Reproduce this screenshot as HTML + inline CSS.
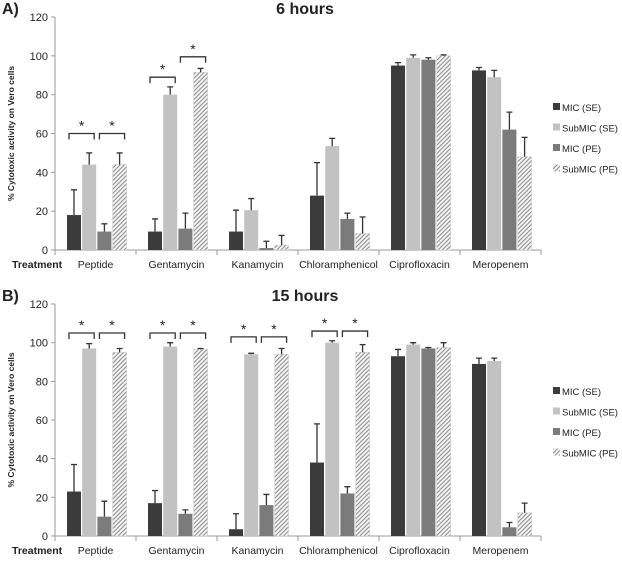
<!DOCTYPE html>
<html><head><meta charset="utf-8"><style>
body{margin:0;background:#fff;font-family:"Liberation Sans",sans-serif;}
svg text{font-family:"Liberation Sans",sans-serif;fill:#222;}
</style></head><body>
<svg id="c" width="622" height="559" viewBox="0 0 622 559">
<defs>
<pattern id="hatch" patternUnits="userSpaceOnUse" width="3" height="3" patternTransform="rotate(45)">
<rect width="3" height="3" fill="#f4f4f4"/><rect width="1" height="3" fill="#8a8a8a"/>
</pattern>
</defs>
</svg>
<script>
const categories=["Peptide","Gentamycin","Kanamycin","Chloramphenicol","Ciprofloxacin","Meropenem"];
const seriesNames=["MIC (SE)","SubMIC (SE)","MIC (PE)","SubMIC (PE)"];
const yTicks=[0,20,40,60,80,100,120];
const a_micSE=[18,9.5,9.5,28,95,92.5];
const a_subSE=[44,80,20.5,53.5,99,89];
const a_micPE=[9.5,11,1,16,98,62];
const a_subPE=[44,91.5,2.5,8.5,100,48];
const a_errMicSE=[13,6.5,11,17,1.5,1.5];
const a_errSubSE=[6,4,6,4,1.5,3.5];
const a_errMicPE=[4,8,3.5,3,1,9];
const a_errSubPE=[6,2,5,8.5,0.5,10];
const b_micSE=[23,17,3.5,38,93,89];
const b_subSE=[97,98,94,100,99,90.5];
const b_micPE=[10,11.5,16,22,97,4.5];
const b_subPE=[95,96.5,94,95,97.5,12];
const b_errMicSE=[14,6.5,8,20,3.5,3];
const b_errSubSE=[2.5,2,0.5,1,1,1.5];
const b_errMicPE=[8,2,5.5,3.5,0.5,2.5];
const b_errSubPE=[2,0.5,3,4,2.5,5];
// significance brackets: [category, firstBar, secondBar, level]
const a_sig=[[0,0,1,60],[0,2,3,60],[1,0,1,89],[1,2,3,99.5]];
const b_sig=[[0,0,1,105],[0,2,3,105],[1,0,1,105],[1,2,3,105],[2,0,1,103],[2,2,3,103],[3,0,1,106],[3,2,3,106]];

const svg=document.getElementById('c');
const NS="http://www.w3.org/2000/svg";
function el(t,at,p){const e=document.createElementNS(NS,t);for(const k in at)e.setAttribute(k,at[k]);(p||svg).appendChild(e);return e;}
const fills=["#3b3b3b","#c2c2c2","#7b7b7b","url(#hatch)"];

function panel(cfg){
  const g=el('g',{});
  
  
  const x0=55,x1=541,y0=cfg.y0,y1=cfg.y1;
  const yS=v=>y0-(v/120)*(y0-y1);
  const cw=(x1-x0)/categories.length;
  const xCat=i=>x0+i*cw;
  const bw=14,gap=1.2,off=12;
  const xBar=(i,s)=>xCat(i)+off+s*(bw+gap);
  const t=el('text',{x:2,y:cfg.y1-3,'font-size':16,'font-weight':'bold'},g);t.textContent=cfg.letter;
  
  const ti=el('text',{x:305,y:cfg.y1-3,'font-size':16,'font-weight':'bold','text-anchor':'middle'},g);ti.textContent=cfg.title;
  
  const yl=el('text',{transform:`translate(14,${(y0+y1)/2}) rotate(-90)`,'font-size':8.5,'font-weight':'bold','text-anchor':'middle'},g);
  yl.textContent="% Cytotoxic activity on Vero cells";
  
  const ax=el('line',{x1:x0,y1:y1,x2:x0,y2:y0,stroke:'#999'},g);
  
  const xa=el('line',{x1:x0,y1:y0,x2:x1,y2:y0,stroke:'#999'},g);
  
  yTicks.forEach(v=>{
    el('line',{x1:x0-4,x2:x0,y1:yS(v),y2:yS(v),stroke:'#999'},g);
    const tt=el('text',{x:x0-7,y:yS(v)+4,'font-size':11,'text-anchor':'end',fill:'#333'},g);tt.textContent=v;
    
  });
  for(let i=0;i<=categories.length;i++) el('line',{x1:xCat(i),x2:xCat(i),y1:y0,y2:y0+5,stroke:'#999'},g);
  const tr=el('text',{x:12,y:y0+18,'font-size':10.5,'font-weight':'bold'},g);tr.textContent="Treatment";
  
  categories.forEach((c,i)=>{
    const ct=el('text',{x:xCat(i)+cw/2,y:y0+18,'font-size':10.5,'text-anchor':'middle'},g);ct.textContent=c;
    
  });
  cfg.vals.forEach((arr,s)=>{
    arr.forEach((v,i)=>{
      const x=xBar(i,s);
      const r=el('rect',{x:x,y:yS(v),width:bw,height:yS(0)-yS(v),fill:fills[s],stroke:s==3?'#ccc':'none','stroke-width':0.5},g);
      
      const e=cfg.errs[s][i], cx=x+bw/2;
      const eb=el('path',{d:`M${cx},${yS(v)}V${yS(v+e)}M${cx-3},${yS(v+e)}H${cx+3}`,stroke:'#333','stroke-width':1.3,fill:'none'},g);
      
    });
  });
  cfg.sig.forEach(([c,a,b,lv])=>{
    const xa=xBar(c,a)+2,xb=xBar(c,b)+bw-2,y=yS(lv);
    const br=el('path',{d:`M${xa},${y+6}V${y}H${xb}V${y+6}`,stroke:'#333','stroke-width':1.3,fill:'none'},g);
    
    const st=el('text',{x:(xa+xb)/2,y:y-3,'font-size':14,'text-anchor':'middle'},g);st.textContent="*";
    
  });
  seriesNames.forEach((n,s)=>{
    const ly=cfg.leg+s*20.5;
    const lr=el('rect',{x:553,y:ly-4,width:7,height:7,fill:fills[s]},g);
    
    const lt=el('text',{x:562,y:ly+4,'font-size':9.5},g);lt.textContent=n;
    
  });
}
panel({id:'a',letter:'A)',title:'6 hours',y0:250,y1:17,leg:107,
  vals:[a_micSE,a_subSE,a_micPE,a_subPE],errs:[a_errMicSE,a_errSubSE,a_errMicPE,a_errSubPE],sig:a_sig});
panel({id:'b',letter:'B)',title:'15 hours',y0:536,y1:304,leg:391,
  vals:[b_micSE,b_subSE,b_micPE,b_subPE],errs:[b_errMicSE,b_errSubSE,b_errMicPE,b_errSubPE],sig:b_sig});
</script>
</body></html>
